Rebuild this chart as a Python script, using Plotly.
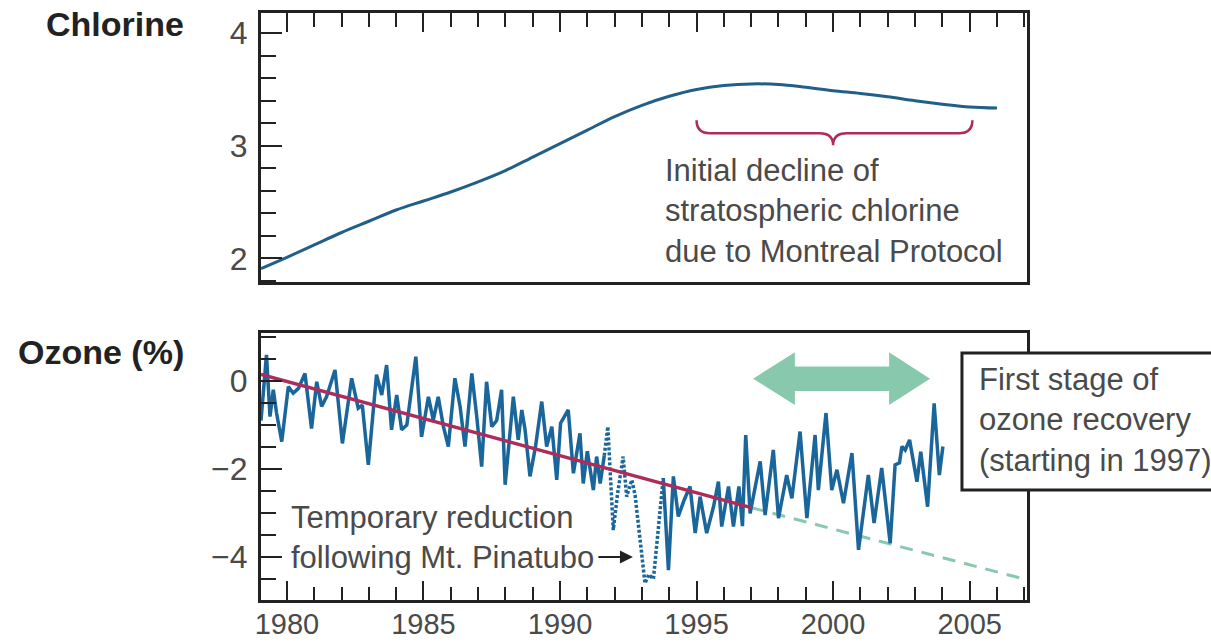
import plotly.graph_objects as go

# ---------------- data ----------------
chlorine_years = [1979.05, 1980, 1981, 1982, 1983, 1984, 1985, 1986, 1987, 1988, 1989,
                  1990, 1991, 1992, 1993, 1994, 1995, 1996, 1997, 1998, 1999, 2000,
                  2001, 2002, 2003, 2004, 2005, 2006]
chlorine_vals = [1.91, 2.01, 2.12, 2.23, 2.33, 2.43, 2.51, 2.59, 2.68, 2.78, 2.90,
                 3.02, 3.14, 3.26, 3.36, 3.44, 3.50, 3.535, 3.55, 3.545, 3.52, 3.49,
                 3.465, 3.435, 3.40, 3.37, 3.345, 3.335]

ozone1_years = [1979.05, 1979.25, 1979.38, 1979.50, 1979.62, 1979.81, 1980.05, 1980.23, 1980.42,
                1980.66, 1980.90, 1981.09, 1981.27, 1981.45, 1981.76, 1982.03, 1982.37, 1982.61,
                1982.76, 1982.98, 1983.28, 1983.47, 1983.65, 1983.83, 1984.02, 1984.20, 1984.39,
                1984.72, 1984.93, 1985.18, 1985.36, 1985.54, 1985.73, 1985.91, 1986.15, 1986.34,
                1986.52, 1986.77, 1986.95, 1987.13, 1987.31, 1987.50, 1987.68, 1987.86, 1987.99,
                1988.29, 1988.47, 1988.60, 1988.72, 1988.90, 1989.10, 1989.33, 1989.51, 1989.70,
                1989.88, 1990.02, 1990.30, 1990.49, 1990.73, 1990.85, 1991.00, 1991.22, 1991.34,
                1991.47, 1991.62]
ozone1_vals = [-0.90, 0.59, -0.81, -0.20, -0.73, -1.38, -0.13, -0.28, -0.17,
               0.17, -1.08, -0.02, -0.58, -0.36, 0.25, -1.42, 0.06, -0.62,
               -0.55, -1.91, 0.14, -0.32, 0.36, -1.11, -0.32, -1.11, -1.00,
               0.55, -1.27, -0.36, -0.89, -0.36, -1.04, -1.49, 0.06, -0.58,
               -1.49, 0.17, -0.81, -1.95, -0.02, -1.04, -0.90, -0.20, -2.36,
               -0.36, -1.34, -0.66, -1.11, -2.17, -1.50, -0.47, -1.49, -1.04,
               -2.25, -0.96, -0.66, -2.10, -1.19, -2.33, -1.60, -2.48, -1.72,
               -2.33, -1.70]

pinatubo_years = [1991.62, 1991.75, 1991.95, 1992.10, 1992.31, 1992.44, 1992.63, 1992.75,
                  1993.11, 1993.25, 1993.42, 1993.78]
pinatubo_vals = [-1.70, -1.04, -3.39, -2.60, -1.72, -2.63, -2.25, -2.60,
                 -4.60, -4.40, -4.50, -2.21]

ozone2_years = [1993.78, 1993.97, 1994.15, 1994.33, 1994.55, 1994.76, 1994.95, 1995.13, 1995.37,
                1995.62, 1995.80, 1995.92, 1996.17, 1996.35, 1996.55, 1996.68, 1996.80, 1996.96,
                1997.33, 1997.51, 1997.81, 1998.00, 1998.30, 1998.49, 1998.79, 1999.04, 1999.34,
                1999.46, 1999.74, 1999.95, 2000.14, 2000.38, 2000.69, 2000.93, 2001.29, 2001.50,
                2001.78, 2002.09, 2002.27, 2002.43, 2002.52, 2002.64, 2002.80, 2003.07, 2003.21,
                2003.46, 2003.70, 2003.89, 2004.02]
ozone2_vals = [-2.21, -4.30, -2.17, -3.08, -2.70, -2.40, -3.46, -2.63, -3.46,
               -2.86, -2.29, -3.31, -2.40, -3.31, -2.40, -3.30, -1.23, -3.01,
               -1.83, -3.05, -1.57, -3.12, -2.14, -2.67, -1.15, -3.12, -1.23,
               -2.48, -0.73, -2.48, -2.02, -2.78, -1.64, -3.84, -2.14, -3.23,
               -1.98, -3.69, -1.91, -1.86, -1.49, -1.57, -1.34, -2.29, -1.61,
               -2.86, -0.51, -2.14, -1.49]

trend_years = [1979.05, 1997.0]
trend_vals = [0.15, -2.88]
projection_years = [1997.0, 2007.1]
projection_vals = [-2.88, -4.52]

x_tick_vals = [1980, 1985, 1990, 1995, 2000, 2005]
x_tick_text = ["1980", "1985", "1990", "1995", "2000", "2005"]

# ---------------- styling ----------------
BLUE = "#1a669b"
BLUE_CL = "#215f88"
RED = "#ad2c5c"
GREEN = "#88c9ad"
FRAME = "#222222"
TXT = "#4a4a4a"
FONT = "Liberation Sans, Arial, sans-serif"

XR = [1979.05, 2007.1]

fig = go.Figure()

fig.add_trace(go.Scatter(x=chlorine_years, y=chlorine_vals, mode="lines", line=dict(color=BLUE_CL, width=3, shape="spline"),
                         xaxis="x", yaxis="y", showlegend=False, hoverinfo="skip"))

fig.add_trace(go.Scatter(x=projection_years, y=projection_vals, mode="lines",
                         line=dict(color=GREEN, width=3, dash="13px,9px"),
                         xaxis="x2", yaxis="y2", showlegend=False, hoverinfo="skip"))
fig.add_trace(go.Scatter(x=ozone1_years, y=ozone1_vals, mode="lines", line=dict(color=BLUE, width=3.5),
                         xaxis="x2", yaxis="y2", showlegend=False, hoverinfo="skip"))
fig.add_trace(go.Scatter(x=pinatubo_years, y=pinatubo_vals, mode="lines", line=dict(color=BLUE, width=3.5, dash="3px,2px"),
                         xaxis="x2", yaxis="y2", showlegend=False, hoverinfo="skip"))
fig.add_trace(go.Scatter(x=ozone2_years, y=ozone2_vals, mode="lines", line=dict(color=BLUE, width=3.5),
                         xaxis="x2", yaxis="y2", showlegend=False, hoverinfo="skip"))
fig.add_trace(go.Scatter(x=trend_years, y=trend_vals, mode="lines", line=dict(color=RED, width=3.5),
                         xaxis="x2", yaxis="y2", showlegend=False, hoverinfo="skip"))

axis_common = dict(showline=True, linecolor=FRAME, linewidth=3, mirror=True, showgrid=False, zeroline=False,
                   ticks="inside", tickcolor=FRAME, tickwidth=2, automargin=False,
                   tickfont=dict(family=FONT, size=32, color=TXT))

fig.update_layout(
    width=1211, height=644,
    margin=dict(l=261, r=184, t=13, b=44),
    paper_bgcolor="white", plot_bgcolor="white",
    xaxis=dict(**axis_common, domain=[0, 1], anchor="y", range=XR, side="top",
               tickvals=x_tick_vals, showticklabels=False, ticklen=19,
               minor=dict(dtick=1, tick0=1980, ticks="inside", ticklen=14, tickwidth=2, tickcolor=FRAME)),
    yaxis=dict(**axis_common, domain=[0.5417, 1], anchor="x", range=[1.79, 4.18],
               tickvals=[2, 3, 4], ticktext=["2", "3", "4"], ticklen=21, ticklabelstandoff=4,
               minor=dict(dtick=0.2, tick0=2, ticks="inside", ticklen=15, tickwidth=2, tickcolor=FRAME)),
    xaxis2=dict(**axis_common, domain=[0, 1], anchor="y2", range=XR,
                tickvals=x_tick_vals, ticktext=x_tick_text, ticklen=19, ticklabelstandoff=-4,
                minor=dict(dtick=1, tick0=1980, ticks="inside", ticklen=13, tickwidth=2, tickcolor=FRAME)),
    yaxis2=dict(**axis_common, domain=[0, 0.4549], anchor="x2", range=[-4.98, 1.09],
                tickvals=[0, -2, -4], ticklen=21, ticklabelstandoff=4,
                minor=dict(dtick=0.5, tick0=0, ticks="inside", ticklen=15, tickwidth=2, tickcolor=FRAME)),
)
fig.update_xaxes(selector=dict(anchor="y2"), tickfont=dict(family=FONT, size=29, color=TXT))

# brace in the chlorine panel
bx0, bxm, bx1 = 1995.0, 2000.0, 2005.1
by_top, by_mid, by_tip = 3.227, 3.111, 3.004
brace = (f"M {bx0},{by_top} Q {bx0},{by_mid} {bx0+0.5},{by_mid} L {bxm-0.5},{by_mid} "
         f"Q {bxm},{by_mid} {bxm},{by_tip} Q {bxm},{by_mid} {bxm+0.5},{by_mid} "
         f"L {bx1-0.5},{by_mid} Q {bx1},{by_mid} {bx1},{by_top}")
fig.add_shape(type="path", path=brace, xref="x", yref="y", line=dict(color=RED, width=2.5))

# double-headed green arrow in ozone panel
ax0, ah0, ah1, ax1 = 1997.07, 1998.6, 2002.05, 2003.55
ac, ahh, ash = 0.05, 0.60, 0.28
arrow = (f"M {ax0},{ac} L {ah0},{ac+ahh} L {ah0},{ac+ash} L {ah1},{ac+ash} L {ah1},{ac+ahh} "
         f"L {ax1},{ac} L {ah1},{ac-ahh} L {ah1},{ac-ash} L {ah0},{ac-ash} L {ah0},{ac-ahh} Z")
fig.add_shape(type="path", path=arrow, xref="x2", yref="y2", fillcolor=GREEN, line=dict(width=0))

# callout box (extends past right edge)
fig.add_shape(type="rect", xref="paper", yref="paper", x0=0.9151, x1=1.30, y0=0.1874, y1=0.4208,
              fillcolor="white", line=dict(color=FRAME, width=3), layer="above")

ann_font = dict(family=FONT, size=31, color=TXT)
fig.add_annotation(text="Chlorine", xref="paper", yref="paper", x=-0.098, y=0.981, xanchor="right", yanchor="middle",
                   showarrow=False, font=dict(family=FONT, size=34, color="#222222", weight="bold"))
fig.add_annotation(text="Ozone (%)", xref="paper", yref="paper", x=-0.098, y=0.4225, xanchor="right", yanchor="middle",
                   showarrow=False, font=dict(family=FONT, size=34, color="#222222", weight="bold"))
fig.add_annotation(text="Initial decline of<br>stratospheric chlorine<br>due to Montreal Protocol",
                   xref="x", yref="y", x=1993.77, y=2.42, xanchor="left", yanchor="middle", align="left",
                   showarrow=False, font=ann_font)
fig.add_annotation(text="Temporary reduction<br>following Mt. Pinatubo",
                   xref="x2", yref="y2", x=1980.07, y=-3.56, xanchor="left", yanchor="middle", align="left",
                   showarrow=False, font=ann_font)
fig.add_annotation(text="", xref="x2", yref="y2", x=1992.67, y=-4.0, ax=-36, ay=0,
                   showarrow=True, arrowhead=2, arrowsize=1.3, arrowwidth=2, arrowcolor=FRAME)
fig.add_annotation(text="First stage of<br>ozone recovery<br>(starting in 1997)",
                   xref="paper", yref="paper", x=0.9347, y=0.3066, xanchor="left", yanchor="middle", align="left",
                   showarrow=False, font=ann_font)

fig.write_html("out.html", config={"displayModeBar": False},
               post_script="document.body.style.margin='0';document.body.style.padding='0';")
